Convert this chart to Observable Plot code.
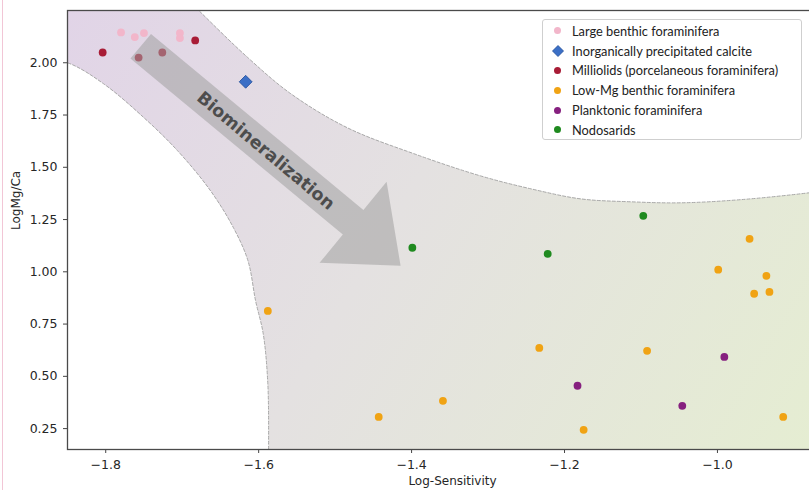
<!DOCTYPE html>
<html><head><meta charset="utf-8">
<script src="https://cdn.jsdelivr.net/npm/d3@7"></script>
<script src="https://cdn.jsdelivr.net/npm/@observablehq/plot@0.6"></script>
<style>
html,body{margin:0;padding:0;background:#fff;}
#wrap{position:relative;width:809px;height:490px;overflow:hidden;background:#fff;}
#chart{position:absolute;left:0;top:0;width:850px;height:490px;}
#chart svg{max-width:none !important;width:850px;height:490px;}
#edge{position:absolute;left:2px;top:0;width:1px;height:490px;background:#f2c6d6;}
#legend{position:absolute;left:542px;top:19px;width:260px;height:121px;box-sizing:border-box;border:1px solid #cfcfcf;border-radius:3px;background:rgba(255,255,255,0.93);font-family:Lato,"Open Sans",sans-serif;font-size:12.8px;color:#222;padding-top:1px;}
.row{height:19.8px;display:flex;align-items:center;}
.mk{width:29px;display:flex;justify-content:center;align-items:center;}
.dotmk{width:7px;height:7px;border-radius:50%;}
</style>
</head><body>
<div id="wrap"><div id="chart"></div><div id="edge"></div><div id="legend"></div></div>
<script>
// ---- data ----
const xTicks = [-1.8, -1.6, -1.4, -1.2, -1.0];
const yTicks = [0.25, 0.50, 0.75, 1.00, 1.25, 1.50, 1.75, 2.00];
const categories = ["Large benthic foraminifera", "Inorganically precipitated calcite", "Milliolids (porcelaneous foraminifera)", "Low-Mg benthic foraminifera", "Planktonic foraminifera", "Nodosarids"];
const categoryColors = ["#f2b6ca", "#3b6fc6", "#a81c36", "#f0a314", "#86207f", "#1f8a1f"];

const largeBenthicX = [-1.780, -1.762, -1.750, -1.703, -1.703];
const largeBenthicY = [2.145, 2.123, 2.142, 2.142, 2.118];
const calciteX = [-1.617];
const calciteY = [1.909];
const milliolidX = [-1.804, -1.757, -1.726, -1.683];
const milliolidY = [2.049, 2.025, 2.049, 2.107];
const lowMgX = [-1.588, -1.443, -1.359, -1.233, -1.175, -1.092, -0.914, -0.958, -0.999, -0.936, -0.952, -0.932];
const lowMgY = [0.813, 0.306, 0.383, 0.636, 0.244, 0.622, 0.306, 1.158, 1.010, 0.981, 0.895, 0.904];
const planktonicX = [-1.183, -1.046, -0.991];
const planktonicY = [0.455, 0.359, 0.593];
const nodosaridX = [-1.399, -1.222, -1.097];
const nodosaridY = [1.115, 1.086, 1.268];

// shaded band boundaries (data coordinates)
const upperEdge = [[-1.700, 2.330], [-1.678, 2.249], [-1.614, 2.024], [-1.558, 1.852], [-1.484, 1.689], [-1.397, 1.565], [-1.310, 1.459], [-1.244, 1.397], [-1.179, 1.349], [-1.114, 1.335], [-1.048, 1.330], [-0.970, 1.345], [-0.880, 1.378], [-0.843, 1.397], [-0.800, 1.425]];
const lowerEdge = [[-1.587, 0.080], [-1.587, 0.148], [-1.588, 0.464], [-1.594, 0.703], [-1.604, 0.861], [-1.614, 1.053], [-1.633, 1.211], [-1.663, 1.388], [-1.706, 1.579], [-1.750, 1.737], [-1.803, 1.900], [-1.850, 2.000], [-1.900, 2.030]];
const bandCorners = [[-0.800, 0.080], [-1.900, 2.330]];

// arrow outline and label (data coordinates)
const arrowShape = [[-1.7408, 2.1378], [-1.4630, 1.2957], [-1.4327, 1.4306], [-1.4144, 1.0287], [-1.5203, 1.0431], [-1.4899, 1.1780], [-1.7677, 2.0201]];
const arrowLabel = [{x: -1.5908, y: 1.579, text: "Biomineralization"}];

const xDomain = [-1.85, -0.843];
const yDomain = [0.15, 2.25];

// ---- build tables ----
function series(name, xs, ys) { return xs.map((x, i) => ({group: name, x, y: ys[i]})); }
const circles = [
  ...series(categories[0], largeBenthicX, largeBenthicY),
  ...series(categories[2], milliolidX, milliolidY),
  ...series(categories[3], lowMgX, lowMgY),
  ...series(categories[4], planktonicX, planktonicY),
  ...series(categories[5], nodosaridX, nodosaridY)
];
const diamonds = series(categories[1], calciteX, calciteY);
const band = [...upperEdge, bandCorners[0], ...lowerEdge, bandCorners[1]];

const W = 850, H = 490, ML = 67, MR = 13, MT = 10, MB = 41;

function gradientDefs() {
  const defs = d3.create("svg:defs");
  const g = defs.append("linearGradient").attr("id", "bandGrad")
    .attr("gradientUnits", "userSpaceOnUse")
    .attr("x1", ML).attr("y1", MT).attr("x2", 809).attr("y2", H - MB);
  g.append("stop").attr("offset", "0").attr("stop-color", "#e1d4e7");
  g.append("stop").attr("offset", "0.45").attr("stop-color", "#e4e1e1");
  g.append("stop").attr("offset", "1").attr("stop-color", "#e5edd2");
  return defs.node();
}

const chart = Plot.plot({
  width: W, height: H,
  marginLeft: ML, marginRight: MR, marginTop: MT, marginBottom: MB,
  style: {fontFamily: "DejaVu Sans", fontSize: "12.5px", color: "#262626", background: "transparent", maxWidth: "none"},
  x: {domain: xDomain, label: null},
  y: {domain: yDomain, label: null},
  color: {domain: categories, range: categoryColors},
  marks: [
    gradientDefs,
    Plot.line(band, {x: d => d[0], y: d => d[1], fill: "url(#bandGrad)", stroke: "none", curve: "catmull-rom", clip: true}),
    Plot.line(upperEdge, {x: d => d[0], y: d => d[1], stroke: "#a8a8a8", strokeWidth: 1, strokeDasharray: "3,2", curve: "catmull-rom", clip: true}),
    Plot.line(lowerEdge, {x: d => d[0], y: d => d[1], stroke: "#a8a8a8", strokeWidth: 1, strokeDasharray: "3,2", curve: "catmull-rom", clip: true}),
    Plot.dot(circles, {x: "x", y: "y", fill: "group", r: 3.9, stroke: "none"}),
    Plot.line(arrowShape, {x: d => d[0], y: d => d[1], fill: "#a0a0a0", fillOpacity: 0.55, stroke: "none"}),
    Plot.text(arrowLabel, {x: "x", y: "y", text: "text", rotate: 40, fontSize: 17.5, fontWeight: "bold", fill: "#4d4d4d", fontFamily: "DejaVu Sans"}),
    Plot.dot(diamonds, {x: "x", y: "y", fill: "group", symbol: "diamond2", r: 5.8, stroke: "#1f4b98", strokeWidth: 0.8}),
    Plot.axisX({ticks: xTicks, tickFormat: d3.format(".1f"), tickSize: 4, tickPadding: 7, stroke: "#444", label: null}),
    Plot.axisY({ticks: yTicks, tickFormat: d3.format(".2f"), tickSize: 4, tickPadding: 6, stroke: "#444", label: null}),
    Plot.text(["Log-Sensitivity"], {frameAnchor: "bottom", dy: 35, fontSize: 12, fill: "#262626"}),
    Plot.text(["LogMg/Ca"], {frameAnchor: "left", dx: -51, rotate: -90, fontSize: 12, fill: "#262626"}),
    Plot.frame({stroke: "#4a4a4a", strokeWidth: 1.3})
  ]
});
document.getElementById("chart").appendChild(chart);

// legend
const legend = document.getElementById("legend");
categories.forEach((c, i) => {
  const row = document.createElement("div");
  row.className = "row";
  const mk = document.createElement("div");
  mk.className = "mk";
  if (i === 1) {
    mk.innerHTML = '<svg width="12" height="12" viewBox="0 0 12 12"><polygon points="6,0.5 11.5,6 6,11.5 0.5,6" fill="' + categoryColors[i] + '" stroke="#1f4b98" stroke-width="0.8"/></svg>';
  } else {
    const s = document.createElement("span");
    s.className = "dotmk";
    s.style.background = categoryColors[i];
    mk.appendChild(s);
  }
  const t = document.createElement("span");
  t.textContent = c;
  row.appendChild(mk);
  row.appendChild(t);
  legend.appendChild(row);
});
</script>
</body></html>
